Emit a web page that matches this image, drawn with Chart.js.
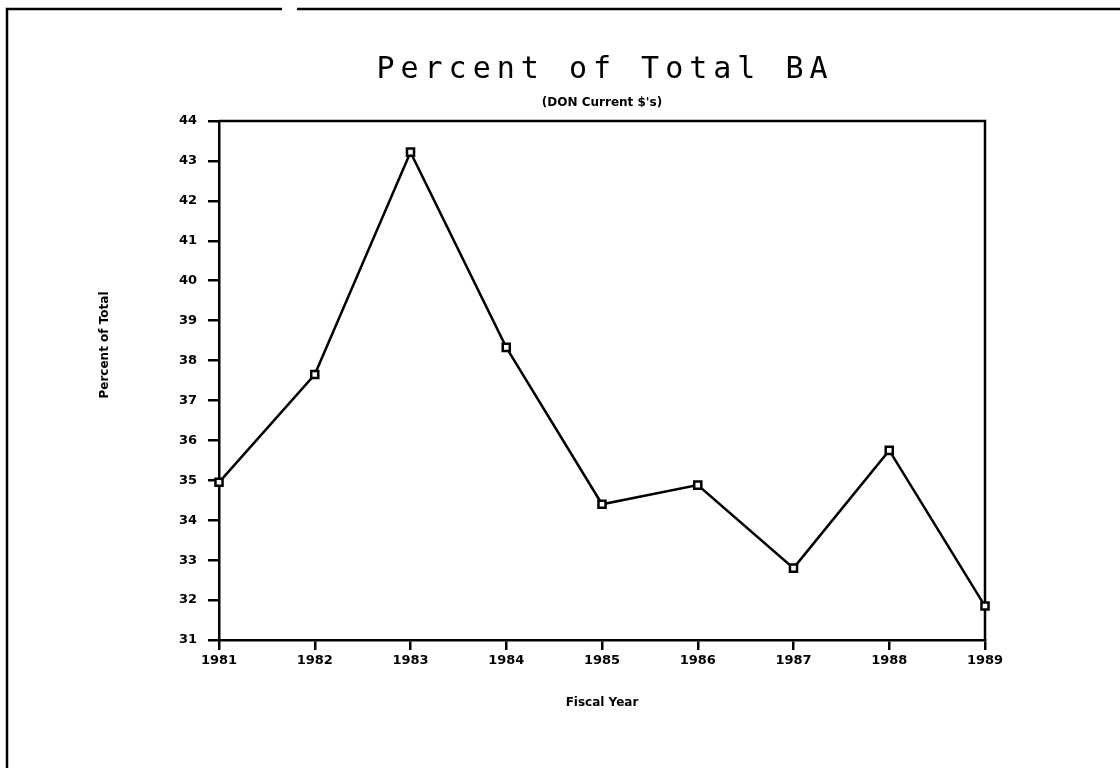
<!DOCTYPE html>
<html>
<head>
<meta charset="utf-8">
<title>Percent of Total BA</title>
<script src="https://cdn.jsdelivr.net/npm/chart.js@4.4.0/dist/chart.umd.min.js"></script>
<style>
  html, body { margin: 0; padding: 0; background: #fff; }
  #wrap { width: 1120px; height: 768px; }
</style>
</head>
<body>
<div id="wrap"><canvas id="baChart" width="1120" height="768"></canvas></div>
<script>
const years = ["1981", "1982", "1983", "1984", "1985", "1986", "1987", "1988", "1989"];
const percentOfTotal = [34.95, 37.65, 43.22, 38.33, 34.4, 34.88, 32.8, 35.75, 31.85];
const yMin = 31;
const yMax = 44;

const chartTitle = "Percent of Total BA";
const chartSubtitle = "(DON Current $'s)";
const yTitle = "Percent of Total";
const xTitle = "Fiscal Year";

const tickFont = { family: "'DejaVu Sans', sans-serif", size: 13, weight: "bold" };

// page frame, plot box and the titles the scanned chart puts off-centre
const pageText = {
  id: "pageText",
  beforeDraw(chart) {
    const ctx = chart.ctx;
    ctx.save();
    ctx.strokeStyle = "#000";
    ctx.lineWidth = 2.5;
    ctx.beginPath();
    ctx.moveTo(7, chart.height);
    ctx.lineTo(7, 9);
    ctx.lineTo(282, 9);
    ctx.moveTo(297, 9);
    ctx.lineTo(chart.width, 9);
    ctx.stroke();
    ctx.restore();
  },
  beforeDatasetsDraw(chart) {
    const { ctx, chartArea } = chart;
    ctx.save();
    ctx.strokeStyle = "#000";
    ctx.lineWidth = 2.5;
    ctx.beginPath();
    ctx.moveTo(chartArea.left, chartArea.top);
    ctx.lineTo(chartArea.right, chartArea.top);
    ctx.lineTo(chartArea.right, chartArea.bottom);
    ctx.stroke();
    ctx.restore();
  },
  afterDraw(chart) {
    const { ctx, chartArea } = chart;
    const cx = (chartArea.left + chartArea.right) / 2;
    ctx.save();
    ctx.fillStyle = "#000";
    ctx.textAlign = "center";
    ctx.textBaseline = "middle";

    ctx.font = "30px 'DejaVu Sans Mono', monospace";
    ctx.letterSpacing = "6px";
    ctx.fillText(chartTitle, cx + 3, 70);

    ctx.letterSpacing = "0px";
    ctx.font = "bold 12px 'DejaVu Sans', sans-serif";
    ctx.fillText(chartSubtitle, cx, 103);

    ctx.translate(105, 345);
    ctx.rotate(-Math.PI / 2);
    ctx.fillText(yTitle, 0, 0);
    ctx.restore();
  },
};

const ctx = document.getElementById("baChart").getContext("2d");
new Chart(ctx, {
  type: "line",
  data: {
    labels: years,
    datasets: [
      {
        label: "Percent of Total BA",
        data: percentOfTotal,
        borderColor: "#000",
        borderWidth: 2.5,
        tension: 0,
        pointStyle: "rect",
        pointRadius: 5,
        pointBorderWidth: 2.5,
        pointBorderColor: "#000",
        pointBackgroundColor: "#fff",
      },
    ],
  },
  options: {
    responsive: false,
    animation: false,
    layout: {
      padding: { top: 121, right: 135, bottom: 0, left: 0 },
    },
    plugins: {
      legend: { display: false },
      tooltip: { enabled: false },
      title: { display: false },
    },
    scales: {
      x: {
        type: "category",
        offset: false,
        grid: {
          offset: false,
          drawOnChartArea: false,
          drawTicks: true,
          tickLength: 10,
          color: "#000",
          lineWidth: 2.5,
        },
        border: { display: true, color: "#000", width: 2.5 },
        ticks: {
          color: "#000",
          font: tickFont,
          padding: 3,
          maxRotation: 0,
        },
        title: {
          display: true,
          text: xTitle,
          color: "#000",
          font: { family: "'DejaVu Sans', sans-serif", size: 12, weight: "bold" },
          padding: { top: 0, bottom: 58 },
        },
        afterFit(scale) {
          scale.height = 128;
        },
      },
      y: {
        min: yMin,
        max: yMax,
        grid: {
          drawOnChartArea: false,
          drawTicks: true,
          tickLength: 11,
          color: "#000",
          lineWidth: 2.5,
        },
        border: { display: true, color: "#000", width: 2.5 },
        ticks: {
          stepSize: 1,
          color: "#000",
          font: tickFont,
          padding: 11,
        },
        title: { display: false },
        afterFit(scale) {
          scale.width = 219;
        },
      },
    },
  },
  plugins: [pageText],
});
</script>
</body>
</html>
